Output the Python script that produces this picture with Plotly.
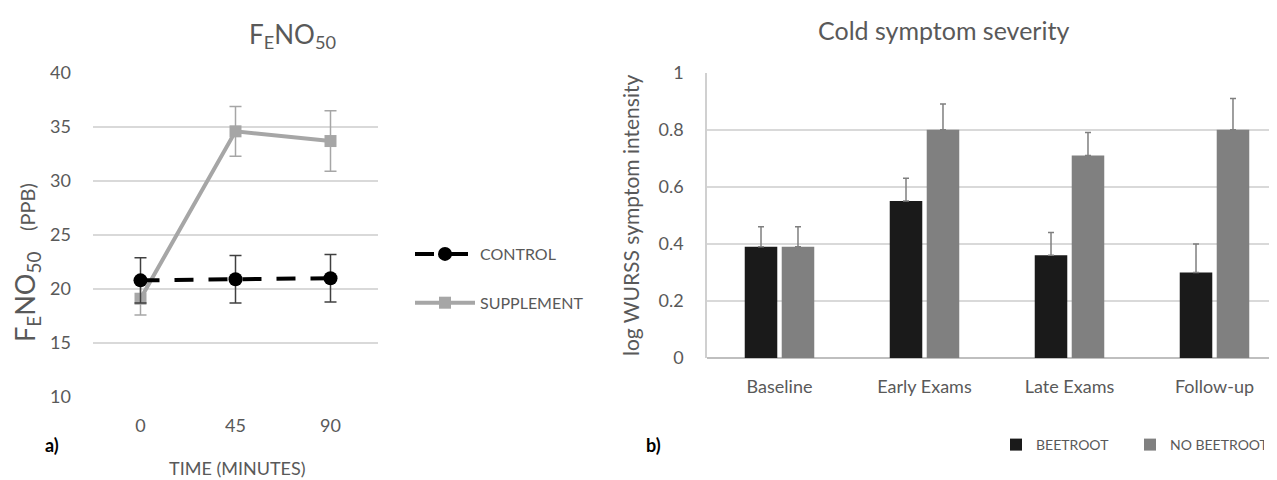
import plotly.graph_objects as go

W, H = 1277, 480
OFF = 8  # page body margin offsets the figure inside the window

# ---- Panel a) data ----
times = ["0", "45", "90"]
control_mean = [20.8, 20.9, 21.0]
control_err = [2.1, 2.2, 2.2]
supp_mean = [19.1, 34.6, 33.7]
supp_err = [1.5, 2.3, 2.8]

# ---- Panel b) data ----
phases = ["Baseline", "Early Exams", "Late Exams", "Follow-up"]
beet = [0.39, 0.55, 0.36, 0.30]
beet_err = [0.07, 0.08, 0.08, 0.10]
nobeet = [0.39, 0.80, 0.71, 0.80]
nobeet_err = [0.07, 0.09, 0.08, 0.11]


def px(x):
    return (x - OFF) / W


def py(y):
    return 1 - (y - OFF) / H


FONT = "Lato"
GREY_TXT = "#595959"
GRID = "#d9d9d9"

fig = go.Figure()

# Panel a traces
fig.add_trace(go.Scatter(
    x=times, y=supp_mean, name="SUPPLEMENT", mode="lines+markers",
    line=dict(color="#a6a6a6", width=4),
    marker=dict(symbol="square", size=12, color="#a6a6a6"),
    error_y=dict(type="data", array=supp_err, color="#a6a6a6", thickness=1.5, width=6),
    xaxis="x", yaxis="y", legend="legend", legendrank=2, legendgroup="s",
))
fig.add_trace(go.Scatter(
    x=times, y=control_mean, name="CONTROL", mode="lines+markers",
    line=dict(color="#000000", width=4, dash="19px,15px"),
    marker=dict(symbol="circle", size=14, color="#000000"),
    error_y=dict(type="data", array=control_err, color="#404040", thickness=1.5, width=6),
    xaxis="x", yaxis="y", legend="legend", legendrank=1, legendgroup="c",
))

# Panel b traces
fig.add_trace(go.Bar(
    x=phases, y=beet, name="BEETROOT", marker=dict(color="#1a1a1a", line=dict(width=0)),
    error_y=dict(type="data", array=beet_err, arrayminus=[0] * len(beet), symmetric=False,
                 color="#7f7f7f", thickness=1.5, width=3),
    xaxis="x2", yaxis="y2", legend="legend2",
))
fig.add_trace(go.Bar(
    x=phases, y=nobeet, name="NO BEETROOT", marker=dict(color="#808080", line=dict(width=0)),
    error_y=dict(type="data", array=nobeet_err, arrayminus=[0] * len(nobeet), symmetric=False,
                 color="#7f7f7f", thickness=1.5, width=3),
    xaxis="x2", yaxis="y2", legend="legend2",
))

axis_font = dict(family=FONT, size=18, color=GREY_TXT)

fig.update_layout(
    width=W, height=H,
    margin=dict(l=0, r=0, t=0, b=0, autoexpand=False),
    paper_bgcolor="white", plot_bgcolor="white",
    font=dict(family=FONT, color=GREY_TXT),
    showlegend=True,
    barmode="group", bargap=0.49, bargroupgap=0.12,
    xaxis=dict(domain=[px(93), px(378)], type="category", range=[-0.5, 2.5],
               showgrid=False, showline=False, zeroline=False, ticks="",
               tickfont=axis_font, ticklabelstandoff=16, anchor="y", automargin=False),
    yaxis=dict(domain=[py(397), py(73)], range=[10, 40], dtick=5,
               showgrid=True, gridcolor=GRID, gridwidth=1.5, zeroline=False, showline=False,
               tickfont=axis_font, ticklabelstandoff=21, anchor="x", automargin=False),
    xaxis2=dict(domain=[px(707), 1.0], type="category", range=[-0.5, 3.5 - 2 / 145],
                showgrid=False, showline=False, zeroline=False, ticks="",
                tickfont=axis_font, ticklabelstandoff=16, anchor="y2", automargin=False),
    yaxis2=dict(domain=[py(358), py(72.7)], range=[0, 1], dtick=0.2,
                showgrid=True, gridcolor=GRID, gridwidth=1.5, zeroline=True, zerolinecolor="#bfbfbf",
                zerolinewidth=1.5, showline=True, linecolor="#d0d0d0", linewidth=1.5,
                tickfont=axis_font, ticklabelstandoff=18, anchor="x2", automargin=False,
                title=dict(text="log WURSS symptom intensity",
                           font=dict(family=FONT, size=21, color=GREY_TXT), standoff=13)),
    legend=dict(x=px(410), y=py(237), xanchor="left", yanchor="top",
                font=dict(family=FONT, size=16, color=GREY_TXT), tracegroupgap=25,
                bgcolor="rgba(0,0,0,0)", itemwidth=60),
    legend2=dict(orientation="h", x=px(996), y=py(445), xanchor="left", yanchor="middle",
                 font=dict(family=FONT, size=14, color=GREY_TXT), entrywidth=89,
                 bgcolor="rgba(0,0,0,0)"),
)

annotations = [
    dict(x=px(292), y=py(35), text="F<sub>E</sub>NO<sub>50</sub>", showarrow=False,
         font=dict(family=FONT, size=26, color=GREY_TXT), xanchor="center", yanchor="middle"),
    dict(x=px(26), y=py(263), textangle=-90,
         text="F<sub>E</sub>NO<sub>50</sub>   <span style='font-size:20px'>(PPB)</span>",
         showarrow=False, font=dict(family=FONT, size=27, color=GREY_TXT),
         xanchor="center", yanchor="middle"),
    dict(x=px(943), y=py(30), text="Cold symptom severity", showarrow=False,
         font=dict(family=FONT, size=25, color=GREY_TXT), xanchor="center", yanchor="middle"),
    dict(x=px(237), y=py(468), text="TIME (MINUTES)", showarrow=False,
         font=dict(family=FONT, size=18, color=GREY_TXT), xanchor="center", yanchor="middle"),
    dict(x=px(52), y=py(445), text="<b>a)</b>", showarrow=False,
         font=dict(family=FONT, size=18, color="#000000"), xanchor="center", yanchor="middle"),
    dict(x=px(653), y=py(445), text="<b>b)</b>", showarrow=False,
         font=dict(family=FONT, size=18, color="#000000"), xanchor="center", yanchor="middle"),
]
for a in annotations:
    a.update(xref="paper", yref="paper")
fig.update_layout(annotations=annotations)

fig.write_html("out.html")
